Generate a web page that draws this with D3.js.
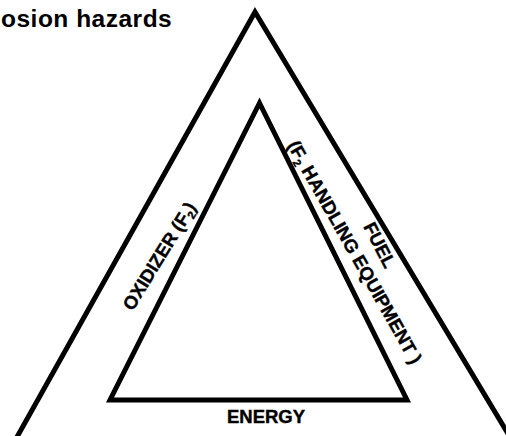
<!DOCTYPE html>
<html>
<head>
<meta charset="utf-8">
<script src="https://cdn.jsdelivr.net/npm/d3@7"></script>
<style>
  html, body { margin: 0; padding: 0; background: #fff; }
  svg { display: block; }
  text { font-family: "Liberation Sans", Arial, Helvetica, sans-serif; font-weight: bold; fill: #000; }
</style>
</head>
<body>
<div id="chart"></div>
<script>
// ---- data ----
const title = "osion hazards";
const triangleNames = ["outer", "inner"];
const labelTexts = ["OXIDIZER (F|2|)", "FUEL", "(F|2| HANDLING EQUIPMENT )", "ENERGY"];
const labelSides = ["left", "right", "right", "bottom"];

// ---- layout ----
const W = 506, H = 436;
const svg = d3.select("#chart").append("svg").attr("width", W).attr("height", H);

// diagram coordinate space (0..100) mapped by scales
const x = d3.scaleLinear().domain([0, 100]).range([0, W]);
const y = d3.scaleLinear().domain([0, 100]).range([0, H]);

const geom = {
  outer: [[255 / W * 100, 12 / H * 100], [(255 - 0.56 * 460) / W * 100, 472 / H * 100], [(255 + 0.6 * 460) / W * 100, 472 / H * 100]],
  inner: [[259.5 / W * 100, 103 / H * 100], [110 / W * 100, 400 / H * 100], [407 / W * 100, 400 / H * 100]]
};

const line = d3.line().x(d => x(d[0])).y(d => y(d[1])).curve(d3.curveLinearClosed);

svg.selectAll("path.tri").data(triangleNames).join("path")
  .attr("class", "tri")
  .attr("d", d => line(geom[d]))
  .attr("fill", "none")
  .attr("stroke", "#000")
  .attr("stroke-width", 5)
  .attr("stroke-linejoin", "miter")
  .attr("stroke-miterlimit", 20);

// title (the reference shows only the tail of it at the left edge)
svg.append("text")
  .attr("x", 1).attr("y", 27)
  .attr("text-anchor", "start")
  .attr("font-size", 24.5)
  .attr("letter-spacing", 0.5)
  .text(title);

const placements = [
  { cx: 159, cy: 256, rot: -58.5, size: 18.5 },
  { cx: 380, cy: 245, rot: 63, size: 18.5 },
  { cx: 355, cy: 252, rot: 60.5, size: 18.5 },
  { cx: 266, cy: 423, rot: 0, size: 18.5 }
];

labelTexts.forEach((t, i) => {
  const p = placements[i];
  const g = svg.append("g")
    .attr("transform", `translate(${p.cx},${p.cy}) rotate(${p.rot})`);
  const txt = g.append("text")
    .attr("text-anchor", "middle")
    .attr("y", p.rot === 0 ? 0 : p.size * 0.36)
    .attr("font-size", p.size)
    .attr("stroke", "#000")
    .attr("stroke-width", 0.4);
  const parts = t.split("|");
  parts.forEach((s, j) => {
    if (j % 2 === 1) {
      txt.append("tspan").attr("font-size", p.size * 0.6).attr("dy", p.size * 0.2).text(s);
    } else {
      const ts = txt.append("tspan").text(s);
      if (j > 0) ts.attr("dy", -p.size * 0.2);
    }
  });
});
</script>
</body>
</html>
